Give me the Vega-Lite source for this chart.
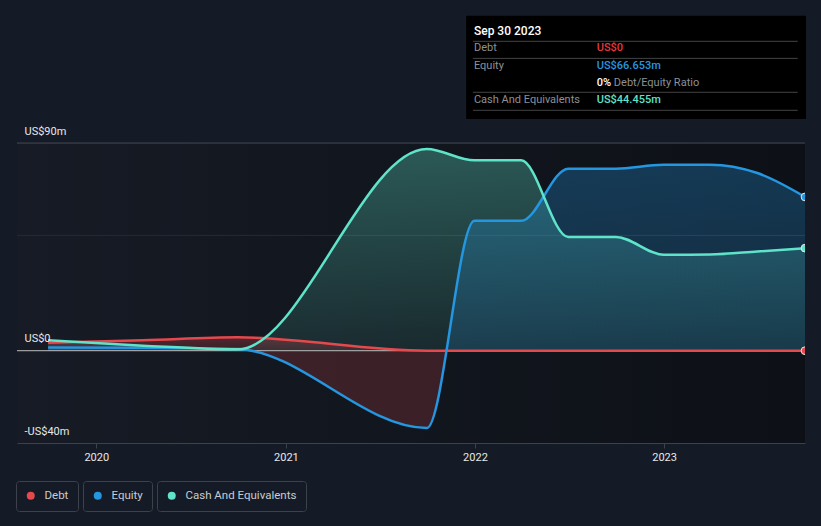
{
  "$schema": "https://vega.github.io/schema/vega-lite/v6.json",
  "width": 788,
  "height": 428,
  "autosize": {"type": "none"},
  "padding": {"left": 17, "top": 15, "right": 16, "bottom": 83},
  "background": "#151b26",
  "data": {
    "values": [
      {"date": "2019-09-30", "series": "Debt", "value": 3.5},
      {"date": "2020-03-31", "series": "Debt", "value": 4.5},
      {"date": "2020-09-30", "series": "Debt", "value": 5.8},
      {"date": "2021-09-30", "series": "Debt", "value": 0},
      {"date": "2021-12-31", "series": "Debt", "value": 0},
      {"date": "2022-03-31", "series": "Debt", "value": 0},
      {"date": "2022-06-30", "series": "Debt", "value": 0},
      {"date": "2022-09-30", "series": "Debt", "value": 0},
      {"date": "2022-12-31", "series": "Debt", "value": 0},
      {"date": "2023-03-31", "series": "Debt", "value": 0},
      {"date": "2023-06-30", "series": "Debt", "value": 0},
      {"date": "2023-09-30", "series": "Debt", "value": 0},
      {"date": "2019-09-30", "series": "Equity", "value": 1.4},
      {"date": "2020-03-31", "series": "Equity", "value": 1.3},
      {"date": "2020-09-30", "series": "Equity", "value": 0.7},
      {"date": "2021-09-30", "series": "Equity", "value": -33.5},
      {"date": "2021-12-31", "series": "Equity", "value": 56.3},
      {"date": "2022-03-31", "series": "Equity", "value": 56.3},
      {"date": "2022-06-30", "series": "Equity", "value": 78.9},
      {"date": "2022-09-30", "series": "Equity", "value": 78.9},
      {"date": "2022-12-31", "series": "Equity", "value": 80.6},
      {"date": "2023-03-31", "series": "Equity", "value": 80.6},
      {"date": "2023-06-30", "series": "Equity", "value": 77.0},
      {"date": "2023-09-30", "series": "Equity", "value": 66.653},
      {"date": "2019-09-30", "series": "Cash And Equivalents", "value": 4.5},
      {"date": "2020-03-31", "series": "Cash And Equivalents", "value": 2.2},
      {"date": "2020-09-30", "series": "Cash And Equivalents", "value": 0.6},
      {"date": "2021-09-30", "series": "Cash And Equivalents", "value": 87.4},
      {"date": "2021-12-31", "series": "Cash And Equivalents", "value": 82.5},
      {"date": "2022-03-31", "series": "Cash And Equivalents", "value": 82.5},
      {"date": "2022-06-30", "series": "Cash And Equivalents", "value": 49.3},
      {"date": "2022-09-30", "series": "Cash And Equivalents", "value": 49.3},
      {"date": "2022-12-31", "series": "Cash And Equivalents", "value": 41.6},
      {"date": "2023-03-31", "series": "Cash And Equivalents", "value": 41.7},
      {"date": "2023-06-30", "series": "Cash And Equivalents", "value": 43.0},
      {"date": "2023-09-30", "series": "Cash And Equivalents", "value": 44.455}
    ]
  },
  "layer": [
    {
      "data": {"values": [{}]},
      "mark": {"type": "rect", "fill": {"gradient": "linear", "x1": 0, "y1": 0, "x2": 1, "y2": 0, "stops": [{"offset": 0, "color": "#161b25"}, {"offset": 1, "color": "#0d1016"}]}},
      "encoding": {
        "x": {"datum": {"year": 2019, "month": 8, "date": 1, "utc": true}, "type": "temporal",
          "scale": {"type": "utc", "domain": [{"year": 2019, "month": 8, "date": 1, "utc": true}, {"year": 2023, "month": 9, "date": 30, "utc": true}]},
          "axis": {"values": [{"year": 2020, "month": 1, "date": 1, "utc": true}, {"year": 2021, "month": 1, "date": 1, "utc": true}, {"year": 2022, "month": 1, "date": 1, "utc": true}, {"year": 2023, "month": 1, "date": 1, "utc": true}],
            "format": "%Y", "title": null, "grid": false, "labelColor": "#e8e8e8", "labelFont": "Roboto", "labelFontSize": 11, "domainColor": "#3d424a", "tickColor": "#3d424a", "tickSize": 5, "labelPadding": 3, "labelFlush": false}},
        "x2": {"datum": {"year": 2023, "month": 9, "date": 30, "utc": true}},
        "y": {"datum": -40, "type": "quantitative",
          "scale": {"domain": [-40, 145.5], "nice": false, "zero": false},
          "axis": {"values": [-40, 0, 90], "labelExpr": "datum.value === 0 ? 'US$0' : (datum.value < 0 ? '-US$' + abs(datum.value) + 'm' : 'US$' + datum.value + 'm')",
            "title": null, "grid": false, "domain": false, "ticks": false, "tickSize": 0, "labelAlign": "left", "labelBaseline": "middle", "labelPadding": -7, "labelOffset": -12,
            "labelColor": "#e8e8e8", "labelFont": "Roboto", "labelFontSize": 11, "labelFlush": false, "labelOverlap": false, "labelBound": false, "zindex": 1}},
        "y2": {"datum": 90}
      }
    },
    {
      "data": {"values": [{}]},
      "mark": {"type": "rule", "color": "#262b34", "strokeWidth": 1},
      "encoding": {"y": {"datum": 50, "type": "quantitative"}}
    },
    {
      "data": {"values": [{}]},
      "mark": {"type": "rule", "color": "#454a52", "strokeWidth": 1},
      "encoding": {"y": {"datum": 90, "type": "quantitative"}}
    },
    {
      "transform": [{"filter": "datum.series === 'Cash And Equivalents'"}],
      "mark": {"type": "area", "interpolate": "monotone", "fill": {"gradient": "linear", "x1": 0, "y1": 0, "x2": 0, "y2": 1, "stops": [{"offset": 0, "color": "rgba(95,227,201,0.33)"}, {"offset": 1, "color": "rgba(95,227,201,0.10)"}]}},
      "encoding": {
        "x": {"field": "date", "type": "temporal", "scale": {"type": "utc"}},
        "y": {"field": "value", "type": "quantitative", "stack": null},
        "y2": {"datum": 0}
      }
    },
    {
      "transform": [{"filter": "datum.series === 'Equity'"}],
      "mark": {"type": "area", "interpolate": "monotone", "fill": {"gradient": "linear", "x1": 0, "y1": 0, "x2": 0, "y2": 1, "stops": [{"offset": 0, "color": "rgba(37,150,224,0.30)"}, {"offset": 0.704, "color": "rgba(37,150,224,0.18)"}, {"offset": 0.708, "color": "rgba(229,72,77,0.2)"}, {"offset": 1, "color": "rgba(229,72,77,0.2)"}]}},
      "encoding": {
        "x": {"field": "date", "type": "temporal", "scale": {"type": "utc"}},
        "y": {"field": "value", "type": "quantitative", "stack": null},
        "y2": {"datum": 0}
      }
    },
    {
      "transform": [{"filter": "datum.series === 'Debt'"}],
      "mark": {"type": "area", "interpolate": "monotone", "fill": {"gradient": "linear", "x1": 0, "y1": 0, "x2": 0, "y2": 1, "stops": [{"offset": 0, "color": "rgba(229,72,77,0.30)"}, {"offset": 1, "color": "rgba(229,72,77,0.15)"}]}},
      "encoding": {
        "x": {"field": "date", "type": "temporal", "scale": {"type": "utc"}},
        "y": {"field": "value", "type": "quantitative", "stack": null},
        "y2": {"datum": 0}
      }
    },
    {
      "data": {"values": [{}]},
      "mark": {"type": "rule", "color": "#bdbdbd", "strokeWidth": 1},
      "encoding": {"y": {"datum": 0, "type": "quantitative"}}
    },
    {
      "transform": [{"filter": "datum.series === 'Debt'"}],
      "mark": {"type": "line", "interpolate": "monotone", "color": "#e5484d", "strokeWidth": 2.5},
      "encoding": {
        "x": {"field": "date", "type": "temporal", "scale": {"type": "utc"}},
        "y": {"field": "value", "type": "quantitative"}
      }
    },
    {
      "transform": [{"filter": "datum.series === 'Equity'"}],
      "mark": {"type": "line", "interpolate": "monotone", "color": "#2596e0", "strokeWidth": 2.5},
      "encoding": {
        "x": {"field": "date", "type": "temporal", "scale": {"type": "utc"}},
        "y": {"field": "value", "type": "quantitative"}
      }
    },
    {
      "transform": [{"filter": "datum.series === 'Cash And Equivalents'"}],
      "mark": {"type": "line", "interpolate": "monotone", "color": "#5fe3c9", "strokeWidth": 2.5},
      "encoding": {
        "x": {"field": "date", "type": "temporal", "scale": {"type": "utc"}},
        "y": {"field": "value", "type": "quantitative"}
      }
    },
    {
      "transform": [{"filter": "datum.series === 'Debt' && utcyear(datum.date) === 2023 && utcmonth(datum.date) === 8"}],
      "mark": {"type": "point", "filled": true, "opacity": 1, "size": 60, "stroke": "#e8e8e8", "strokeWidth": 1, "clip": true},
      "encoding": {
        "x": {"field": "date", "type": "temporal", "scale": {"type": "utc"}},
        "y": {"field": "value", "type": "quantitative"},
        "color": {"field": "series", "type": "nominal", "scale": {"domain": ["Debt"], "range": ["#e5484d"]}, "legend": {"legendX": -1, "legendY": 466}}
      }
    },
    {
      "transform": [{"filter": "datum.series === 'Equity' && utcyear(datum.date) === 2023 && utcmonth(datum.date) === 8"}],
      "mark": {"type": "point", "filled": true, "opacity": 1, "size": 60, "stroke": "#e8e8e8", "strokeWidth": 1, "clip": true},
      "encoding": {
        "x": {"field": "date", "type": "temporal", "scale": {"type": "utc"}},
        "y": {"field": "value", "type": "quantitative"},
        "color": {"field": "series", "type": "nominal", "scale": {"domain": ["Equity"], "range": ["#2596e0"]}, "legend": {"legendX": 66, "legendY": 466}}
      }
    },
    {
      "transform": [{"filter": "datum.series === 'Cash And Equivalents' && utcyear(datum.date) === 2023 && utcmonth(datum.date) === 8"}],
      "mark": {"type": "point", "filled": true, "opacity": 1, "size": 60, "stroke": "#e8e8e8", "strokeWidth": 1, "clip": true},
      "encoding": {
        "x": {"field": "date", "type": "temporal", "scale": {"type": "utc"}},
        "y": {"field": "value", "type": "quantitative"},
        "color": {"field": "series", "type": "nominal", "scale": {"domain": ["Cash And Equivalents"], "range": ["#5fe3c9"]}, "legend": {"legendX": 140, "legendY": 466}}
      }
    },
    {
      "data": {"values": [{}]},
      "mark": {"type": "rect", "fill": "#000000"},
      "encoding": {
        "x": {"datum": {"year": 2021, "month": 12, "date": 15, "utc": true}, "type": "temporal", "scale": {"type": "utc"}},
        "x2": {"datum": {"year": 2023, "month": 10, "date": 2, "utc": true}},
        "y": {"datum": 145.2, "type": "quantitative"},
        "y2": {"datum": 100.4}
      }
    },
    {
      "data": {"values": [{}]},
      "mark": {"type": "rule", "color": "#444444", "strokeWidth": 1},
      "encoding": {
        "x": {"datum": {"year": 2021, "month": 12, "date": 28, "utc": true}, "type": "temporal", "scale": {"type": "utc"}},
        "x2": {"datum": {"year": 2023, "month": 9, "date": 16, "utc": true}},
        "y": {"datum": 134.1, "type": "quantitative"}
      }
    },
    {
      "data": {"values": [{}]},
      "mark": {"type": "rule", "color": "#444444", "strokeWidth": 1},
      "encoding": {
        "x": {"datum": {"year": 2021, "month": 12, "date": 28, "utc": true}, "type": "temporal", "scale": {"type": "utc"}},
        "x2": {"datum": {"year": 2023, "month": 9, "date": 16, "utc": true}},
        "y": {"datum": 126.7, "type": "quantitative"}
      }
    },
    {
      "data": {"values": [{}]},
      "mark": {"type": "rule", "color": "#444444", "strokeWidth": 1},
      "encoding": {
        "x": {"datum": {"year": 2021, "month": 12, "date": 28, "utc": true}, "type": "temporal", "scale": {"type": "utc"}},
        "x2": {"datum": {"year": 2023, "month": 9, "date": 16, "utc": true}},
        "y": {"datum": 112.0, "type": "quantitative"}
      }
    },
    {
      "data": {"values": [{}]},
      "mark": {"type": "rule", "color": "#444444", "strokeWidth": 1},
      "encoding": {
        "x": {"datum": {"year": 2021, "month": 12, "date": 28, "utc": true}, "type": "temporal", "scale": {"type": "utc"}},
        "x2": {"datum": {"year": 2023, "month": 9, "date": 16, "utc": true}},
        "y": {"datum": 104.2, "type": "quantitative"}
      }
    },
    {
      "data": {"values": [{"t": "Sep 30 2023"}]},
      "mark": {"type": "text", "align": "left", "baseline": "middle", "font": "Roboto", "fontSize": 12, "fontWeight": 500, "color": "#ffffff"},
      "encoding": {
        "x": {"datum": {"year": 2021, "month": 12, "date": 30, "utc": true}, "type": "temporal", "scale": {"type": "utc"}},
        "y": {"datum": 138.6, "type": "quantitative"},
        "text": {"field": "t"}
      }
    },
    {
      "data": {"values": [{"t": "Debt"}]},
      "mark": {"type": "text", "align": "left", "baseline": "middle", "font": "Roboto", "fontSize": 11, "color": "#8c9096"},
      "encoding": {
        "x": {"datum": {"year": 2021, "month": 12, "date": 30, "utc": true}, "type": "temporal", "scale": {"type": "utc"}},
        "y": {"datum": 131.07, "type": "quantitative"},
        "text": {"field": "t"}
      }
    },
    {
      "data": {"values": [{"t": "Equity"}]},
      "mark": {"type": "text", "align": "left", "baseline": "middle", "font": "Roboto", "fontSize": 11, "color": "#8c9096"},
      "encoding": {
        "x": {"datum": {"year": 2021, "month": 12, "date": 30, "utc": true}, "type": "temporal", "scale": {"type": "utc"}},
        "y": {"datum": 123.27, "type": "quantitative"},
        "text": {"field": "t"}
      }
    },
    {
      "data": {"values": [{"t": "Cash And Equivalents"}]},
      "mark": {"type": "text", "align": "left", "baseline": "middle", "font": "Roboto", "fontSize": 11, "color": "#8c9096"},
      "encoding": {
        "x": {"datum": {"year": 2021, "month": 12, "date": 30, "utc": true}, "type": "temporal", "scale": {"type": "utc"}},
        "y": {"datum": 108.66, "type": "quantitative"},
        "text": {"field": "t"}
      }
    },
    {
      "data": {"values": [{"t": "US$0"}]},
      "mark": {"type": "text", "align": "left", "baseline": "middle", "font": "Roboto", "fontSize": 11, "fontWeight": 500, "color": "#e5393f"},
      "encoding": {
        "x": {"datum": {"year": 2022, "month": 8, "date": 24, "utc": true}, "type": "temporal", "scale": {"type": "utc"}},
        "y": {"datum": 131.07, "type": "quantitative"},
        "text": {"field": "t"}
      }
    },
    {
      "data": {"values": [{"t": "US$66.653m"}]},
      "mark": {"type": "text", "align": "left", "baseline": "middle", "font": "Roboto", "fontSize": 11, "fontWeight": 500, "color": "#2596e0"},
      "encoding": {
        "x": {"datum": {"year": 2022, "month": 8, "date": 24, "utc": true}, "type": "temporal", "scale": {"type": "utc"}},
        "y": {"datum": 123.27, "type": "quantitative"},
        "text": {"field": "t"}
      }
    },
    {
      "data": {"values": [{"t": "0%"}]},
      "mark": {"type": "text", "align": "left", "baseline": "middle", "font": "Roboto", "fontSize": 11, "fontWeight": 500, "color": "#ffffff"},
      "encoding": {
        "x": {"datum": {"year": 2022, "month": 8, "date": 24, "utc": true}, "type": "temporal", "scale": {"type": "utc"}},
        "y": {"datum": 115.9, "type": "quantitative"},
        "text": {"field": "t"}
      }
    },
    {
      "data": {"values": [{"t": "Debt/Equity Ratio"}]},
      "mark": {"type": "text", "align": "left", "baseline": "middle", "font": "Roboto", "fontSize": 11, "color": "#8c9096"},
      "encoding": {
        "x": {"datum": {"year": 2022, "month": 9, "date": 26, "utc": true}, "type": "temporal", "scale": {"type": "utc"}},
        "y": {"datum": 115.9, "type": "quantitative"},
        "text": {"field": "t"}
      }
    },
    {
      "data": {"values": [{"t": "US$44.455m"}]},
      "mark": {"type": "text", "align": "left", "baseline": "middle", "font": "Roboto", "fontSize": 11, "fontWeight": 500, "color": "#5fe3c9"},
      "encoding": {
        "x": {"datum": {"year": 2022, "month": 8, "date": 24, "utc": true}, "type": "temporal", "scale": {"type": "utc"}},
        "y": {"datum": 108.66, "type": "quantitative"},
        "text": {"field": "t"}
      }
    }
  ],
  "resolve": {"scale": {"color": "independent"}},
  "config": {
    "view": {"stroke": null},
    "font": "Roboto",
    "legend": {
      "orient": "none",
      "direction": "horizontal",
      "title": null,
      "symbolType": "circle",
      "symbolSize": 64,
      "symbolStrokeWidth": 0,
      "labelFont": "Roboto",
      "labelFontSize": 11.5,
      "labelColor": "#c8ccd1",
      "labelOffset": 8,
      "strokeColor": "#3c414a",
      "padding": 9,
      "cornerRadius": 3
    }
  }
}
